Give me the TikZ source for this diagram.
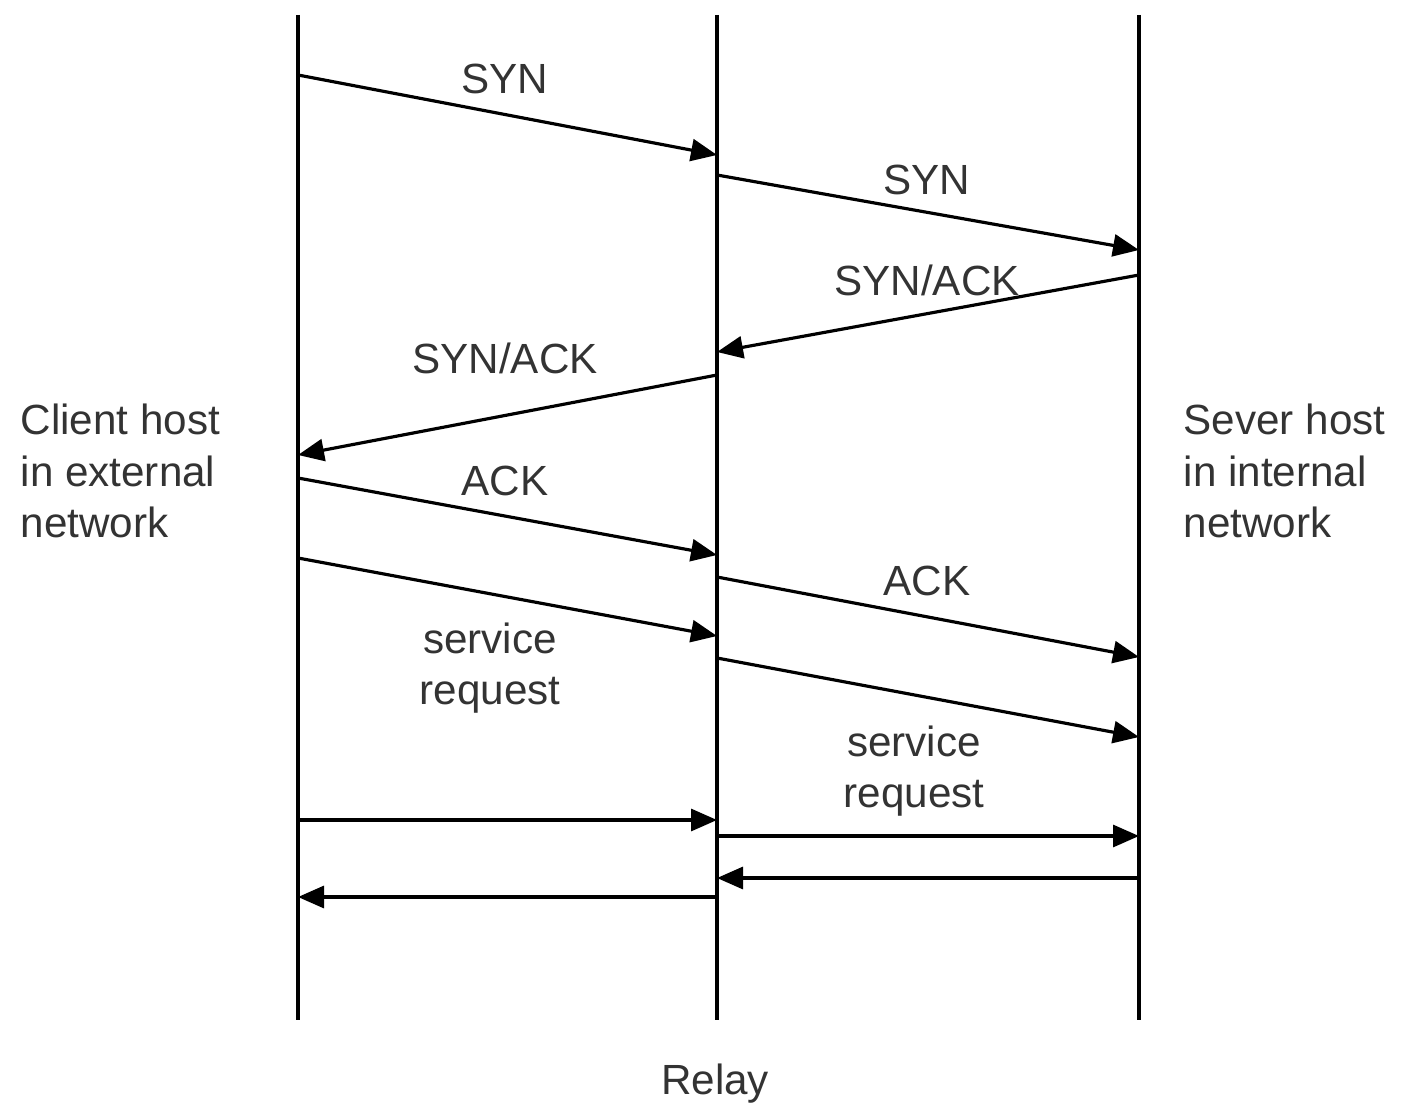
\documentclass[tikz,border=0pt]{standalone}
\usepackage{fontspec}
\setmainfont{Liberation Sans}
\usetikzlibrary{arrows.meta}

\begin{document}
\begin{tikzpicture}[x=0.01cm,y=-0.01cm,
    lifeline/.style={line width=1.3pt},
    msgline/.style={line width=0.9pt,-{Triangle[length=0.26cm,width=0.22cm]}},
    msglabel/.style={text=black!80,font=\fontsize{12}{14.7}\selectfont,inner sep=0pt,align=center},
    hostlabel/.style={msglabel,align=left,anchor=west}]
    \def\msg#1#2#3{
    \coordinate (#1 from) at #2;
    \coordinate (#1 to) at #3;
    \draw[msgline] (#1 from) -- (#1 to);
    }

    \useasboundingbox (0,0) rectangle (1401,1110);

    \coordinate (client top) at (298,15);
    \coordinate (client bottom) at (298,1020);
    \coordinate (relay top) at (717,15);
    \coordinate (relay bottom) at (717,1020);
    \coordinate (server top) at (1139,15);
    \coordinate (server bottom) at (1139,1020);

    \draw[lifeline] (client top) -- (client bottom);
    \draw[lifeline] (relay top) -- (relay bottom);
    \draw[lifeline] (server top) -- (server bottom);

    \msg{syn1}{(298,75)}{(717,155)};
    \msg{syn2}{(717,175)}{(1139,250)};
    \msg{synack1}{(1139,275)}{(717,352)};
    \msg{synack2}{(717,375)}{(298,455)};
    \msg{ack1}{(298,478)}{(717,555)};
    \msg{ack2}{(717,577)}{(1139,657)};
    \msg{req1}{(298,558)}{(717,636)};
    \msg{req2}{(717,658)}{(1139,737)};
    \msg{data1}{(298,820)}{(717,820)};
    \msg{data2}{(717,836)}{(1139,836)};
    \msg{reply1}{(1139,878)}{(717,878)};
    \msg{reply2}{(717,897)}{(298,897)};

    \node[msglabel] (syn1 label) at (505,79) {SYN};
    \node[msglabel] (syn2 label) at (927,180) {SYN};
    \node[msglabel] (synack1 label) at (927,280) {SYN/ACK};
    \node[msglabel] (synack2 label) at (505,358) {SYN/ACK};
    \node[msglabel] (ack1 label) at (505,481) {ACK};
    \node[msglabel] (ack2 label) at (927,581) {ACK};
    \node[msglabel] (req1 label) at (490,668) {service\\request};
    \node[msglabel] (req2 label) at (914,771) {service\\request};

    \node[hostlabel] (client) at (20,471) {Client host\\in external\\network};
    \node[hostlabel] (server) at (1183,471) {Sever host\\in internal\\network};
    \node[msglabel] (relay) at (715,1084) {Relay};

\end{tikzpicture}
\end{document}
